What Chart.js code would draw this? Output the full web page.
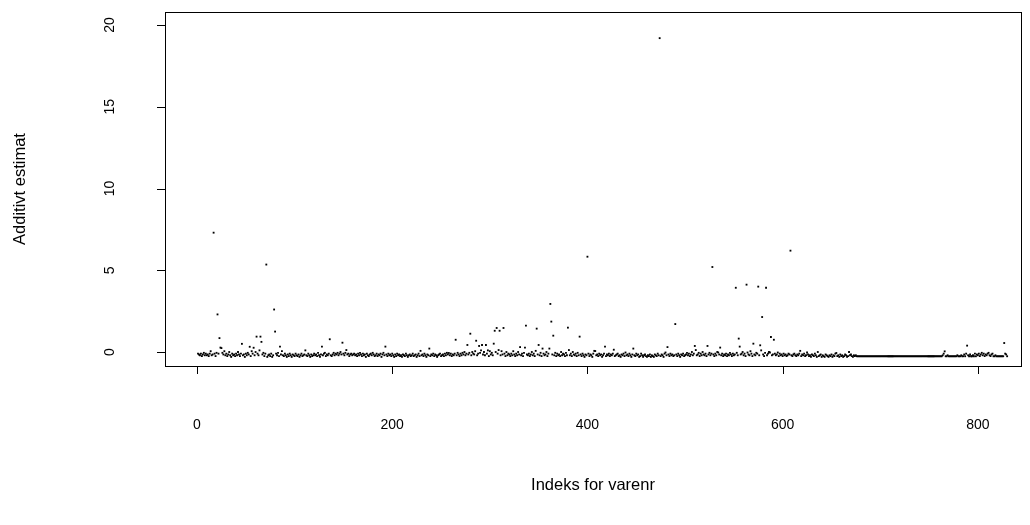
<!DOCTYPE html>
<html>
<head>
<meta charset="utf-8">
<script src="https://cdn.jsdelivr.net/npm/chart.js@4"></script>
<style>
  html, body { margin: 0; padding: 0; background: #fff; overflow: hidden; }
  #wrap { width: 1030px; height: 525px; }
</style>
</head>
<body>
<div id="wrap"><canvas id="plot" width="1030" height="525"></canvas></div>
<script>
/* --- data: additive estimate per item index (1..n) --- */
const estimates = [
  -0.1,-0.15,-0.2,-0.1,-0.25,-0.15,-0.05,-0.2,-0.1,-0.2,
  -0.15,-0.25,-0.1,0.05,-0.2,-0.15,7.3,-0.1,-0.25,-0.05,
  2.3,-0.1,0.85,0.27,0.24,-0.05,-0.15,0.05,-0.2,-0.1,
  -0.25,-0.15,0,-0.2,-0.3,-0.1,-0.2,-0.15,-0.25,-0.1,
  -0.2,0,-0.15,-0.25,-0.1,0.5,-0.2,-0.15,-0.3,-0.1,
  -0.2,-0.05,-0.15,0.32,-0.25,0.05,-0.1,0.26,-0.2,0,
  0.94,-0.1,-0.2,0.1,0.94,0.62,-0.15,-0.05,-0.25,-0.1,
  5.35,-0.3,-0.2,-0.15,-0.25,-0.1,-0.3,-0.2,2.6,1.25,
  -0.1,-0.2,-0.05,-0.25,0.33,-0.15,0.05,-0.2,-0.25,-0.1,
  -0.2,-0.3,-0.15,-0.25,-0.1,-0.2,-0.3,-0.15,-0.2,-0.25,
  -0.1,-0.2,-0.25,-0.15,-0.3,-0.2,-0.1,-0.25,-0.2,-0.15,
  0.1,-0.2,-0.25,-0.1,-0.2,-0.3,-0.15,-0.25,-0.2,-0.1,
  -0.2,-0.15,-0.25,-0.05,-0.2,-0.3,-0.15,0.33,-0.2,-0.1,
  -0.05,-0.25,-0.15,-0.2,-0.1,0.78,-0.2,-0.25,-0.15,-0.05,
  -0.2,-0.1,-0.15,-0.05,-0.2,-0.1,0,-0.15,0.57,-0.1,
  -0.2,-0.05,0.12,-0.15,-0.1,-0.25,-0.15,-0.1,-0.2,-0.15,
  -0.1,-0.2,-0.15,-0.25,-0.1,-0.2,-0.05,-0.15,-0.25,-0.1,
  -0.2,-0.15,-0.3,-0.1,-0.2,-0.25,-0.15,-0.1,-0.2,-0.05,
  -0.15,-0.25,-0.2,-0.1,-0.25,-0.15,-0.2,-0.1,-0.3,-0.15,
  -0.05,-0.2,0.33,-0.15,-0.25,-0.1,-0.2,-0.15,-0.25,-0.1,
  -0.2,-0.3,-0.15,-0.25,-0.1,-0.2,-0.15,-0.25,-0.2,-0.3,
  -0.15,-0.2,-0.25,-0.1,-0.2,-0.3,-0.2,-0.15,-0.25,-0.2,
  -0.1,-0.25,-0.2,-0.15,-0.3,-0.2,-0.1,-0.25,0.07,-0.2,
  -0.15,-0.25,-0.1,-0.2,-0.3,-0.15,-0.2,0.21,-0.25,-0.15,
  -0.2,-0.1,-0.25,-0.15,-0.2,-0.3,-0.2,-0.15,-0.1,-0.25,
  -0.2,-0.15,-0.25,-0.1,-0.2,-0.05,-0.15,-0.06,-0.2,-0.1,
  -0.25,-0.15,-0.2,-0.1,0.75,-0.2,-0.05,-0.15,-0.25,-0.1,
  -0.2,-0.05,-0.15,0,-0.2,-0.1,0.43,-0.15,-0.05,1.12,
  -0.2,0,-0.1,-0.15,0.05,0.69,-0.2,-0.1,0.37,-0.05,
  0.1,0.43,-0.15,0,-0.2,0.43,-0.1,0.1,-0.25,0.05,
  -0.15,-0.05,-0.2,0.51,1.3,0,1.47,-0.1,0.12,1.3,
  -0.2,0.05,-0.15,1.47,-0.1,-0.25,0,-0.2,-0.1,-0.15,
  -0.25,-0.1,-0.2,0.05,-0.15,-0.25,-0.1,-0.2,0,-0.15,
  0.3,-0.2,-0.1,-0.25,-0.05,0.27,1.61,-0.15,-0.2,-0.1,
  -0.25,-0.15,0,-0.2,-0.1,-0.25,0.07,1.43,-0.15,0.43,
  -0.2,-0.05,-0.25,0.21,-0.1,-0.2,-0.15,0,-0.25,-0.1,
  0.21,2.94,1.86,-0.15,1.0,-0.2,-0.05,-0.25,-0.1,-0.2,
  -0.15,-0.25,0,-0.2,-0.1,-0.15,-0.25,-0.05,-0.2,1.49,
  0.12,-0.2,-0.1,-0.25,0,-0.15,-0.2,-0.1,-0.25,-0.05,
  -0.2,0.94,-0.15,-0.25,-0.1,-0.2,-0.3,-0.15,-0.2,5.83,
  -0.1,-0.25,-0.15,-0.2,-0.3,-0.1,0.07,0.06,-0.2,-0.15,
  -0.25,-0.1,-0.2,-0.15,-0.3,-0.2,-0.1,0.33,-0.25,-0.15,
  -0.2,-0.1,-0.25,-0.15,-0.2,-0.1,0.14,-0.25,-0.2,-0.15,
  -0.1,-0.25,-0.2,-0.3,-0.15,-0.2,-0.1,-0.25,-0.03,-0.2,
  -0.15,-0.25,-0.1,-0.2,-0.3,-0.15,0.21,-0.2,-0.25,-0.1,
  -0.2,-0.15,-0.3,-0.25,-0.1,-0.2,-0.3,-0.2,-0.15,-0.25,
  -0.3,-0.2,-0.25,-0.15,-0.3,-0.2,-0.25,-0.3,-0.15,-0.2,
  -0.25,-0.1,-0.2,19.2,-0.25,-0.15,-0.2,-0.3,-0.1,-0.03,
  -0.2,0.3,-0.15,-0.25,-0.1,-0.2,-0.15,-0.25,-0.2,1.71,
  -0.15,-0.25,-0.1,-0.2,-0.3,-0.15,-0.2,-0.1,-0.25,-0.2,
  -0.15,-0.05,-0.2,-0.1,-0.25,-0.15,0,-0.2,-0.1,0.37,
  0.12,-0.2,-0.15,-0.05,-0.25,-0.1,-0.2,0,-0.15,-0.2,
  -0.1,-0.25,0.37,-0.15,-0.05,-0.2,-0.1,5.2,-0.15,-0.25,
  -0.1,-0.2,0,-0.03,-0.15,0.27,-0.2,-0.1,-0.25,-0.15,
  -0.2,-0.1,-0.25,-0.15,-0.2,-0.05,-0.15,-0.25,-0.1,-0.2,
  -0.15,3.93,-0.05,-0.2,0.82,0.33,-0.15,-0.1,0,-0.2,
  -0.1,-0.25,4.12,-0.03,-0.15,-0.2,0.05,-0.1,-0.25,0.51,
  -0.15,-0.2,-0.05,-0.1,4.0,-0.2,0.41,0.1,2.14,-0.15,
  -0.25,-0.05,3.93,-0.2,-0.1,0,-0.03,0.92,-0.2,-0.15,
  0.75,-0.1,-0.2,-0.15,-0.03,-0.25,-0.1,-0.2,-0.15,-0.25,
  -0.1,-0.2,-0.15,-0.25,-0.2,-0.1,-0.15,6.2,-0.2,-0.25,
  -0.15,-0.1,-0.2,-0.25,-0.15,-0.2,-0.1,0.07,-0.25,-0.15,
  -0.2,-0.1,-0.25,-0.2,-0.03,-0.15,-0.25,-0.2,-0.3,-0.15,
  -0.2,-0.25,-0.1,-0.2,-0.3,0,-0.25,-0.2,-0.15,-0.3,
  -0.2,-0.25,-0.3,-0.15,-0.2,-0.25,-0.3,-0.2,-0.25,-0.15,
  -0.3,-0.2,-0.25,-0.1,-0.06,-0.25,-0.2,-0.3,-0.15,-0.25,
  -0.2,-0.3,-0.25,-0.15,-0.2,-0.3,-0.25,0,-0.2,-0.15,
  -0.25,-0.3,-0.2,-0.25,-0.2,-0.26,-0.26,-0.26,-0.26,-0.26,
  -0.26,-0.26,-0.26,-0.26,-0.26,-0.26,-0.26,-0.26,-0.26,-0.26,
  -0.26,-0.26,-0.26,-0.26,-0.26,-0.26,-0.26,-0.26,-0.26,-0.26,
  -0.26,-0.26,-0.26,-0.26,-0.26,-0.26,-0.26,-0.26,-0.26,-0.26,
  -0.26,-0.26,-0.26,-0.26,-0.26,-0.26,-0.26,-0.26,-0.26,-0.26,
  -0.26,-0.26,-0.26,-0.26,-0.26,-0.26,-0.26,-0.26,-0.26,-0.26,
  -0.26,-0.26,-0.26,-0.26,-0.26,-0.26,-0.26,-0.26,-0.26,-0.26,
  -0.26,-0.26,-0.26,-0.26,-0.26,-0.26,-0.26,-0.26,-0.26,-0.26,
  -0.26,-0.26,-0.26,-0.26,-0.26,-0.26,-0.26,-0.26,-0.26,-0.26,
  -0.26,-0.26,-0.26,-0.2,-0.1,0.04,-0.26,-0.26,-0.2,-0.26,
  -0.26,-0.26,-0.26,-0.26,-0.26,-0.26,-0.26,-0.26,-0.2,-0.26,
  -0.26,-0.26,-0.2,-0.26,-0.26,-0.15,-0.26,-0.1,0.39,-0.2,
  -0.26,-0.15,-0.26,-0.26,-0.2,-0.26,-0.1,-0.26,-0.15,-0.2,
  -0.1,-0.25,-0.15,-0.05,-0.2,-0.1,-0.25,-0.15,-0.2,-0.1,
  -0.05,-0.2,-0.25,-0.15,-0.1,-0.26,-0.26,-0.2,-0.26,-0.26,
  -0.26,-0.26,-0.26,-0.26,-0.26,-0.26,0.55,-0.1,-0.15,-0.26
];

/* --- axes --- */
const xTicks = [0, 200, 400, 600, 800];
const yTicks = [0, 5, 10, 15, 20];
const xTitle = "Indeks for varenr";
const yTitle = "Additivt estimat";

const TICK_FONT = '14px "Liberation Sans", Arial, sans-serif';
const TITLE_FONT = '16.5px "Liberation Sans", Arial, sans-serif';

/* --- R-style box, ticks and labels --- */
const rAxes = {
    id: "rAxes",
    afterDraw(chart) {
        const ctx = chart.ctx;
        const a = chart.chartArea;
        const xs = chart.scales.x;
        const ys = chart.scales.y;

        ctx.save();
        ctx.strokeStyle = "#000";
        ctx.lineWidth = 1;

        // box
        ctx.strokeRect(Math.round(a.left) + 0.5, Math.round(a.top) + 0.5,
            Math.round(a.right - a.left), Math.round(a.bottom - a.top));

        // x ticks
        ctx.beginPath();
        xTicks.forEach(v => {
            const px = Math.round(xs.getPixelForValue(v)) + 0.5;
            ctx.moveTo(px, a.bottom);
            ctx.lineTo(px, a.bottom + 8);
        });
        // y ticks
        yTicks.forEach(v => {
            const py = Math.round(ys.getPixelForValue(v)) + 0.5;
            ctx.moveTo(a.left, py);
            ctx.lineTo(a.left - 8, py);
        });
        ctx.stroke();

        ctx.fillStyle = "#000";
        ctx.textAlign = "center";
        ctx.textBaseline = "middle";

        ctx.font = TICK_FONT;
        xTicks.forEach(v => {
            ctx.fillText(String(v), xs.getPixelForValue(v), 425);
        });
        yTicks.forEach(v => {
            ctx.save();
            ctx.translate(110, ys.getPixelForValue(v));
            ctx.rotate(-Math.PI / 2);
            ctx.fillText(String(v), 0, 0);
            ctx.restore();
        });

        // titles
        ctx.font = TITLE_FONT;
        ctx.fillText(xTitle, (a.left + a.right) / 2, 485);
        ctx.save();
        ctx.translate(20, (a.top + a.bottom) / 2);
        ctx.rotate(-Math.PI / 2);
        ctx.fillText(yTitle, 0, 0);
        ctx.restore();

        ctx.restore();
    }
};

const points = estimates.map((v, i) => ({ x: i + 1, y: v }));

new Chart(document.getElementById("plot"), {
    type: "scatter",
    data: {
        datasets: [{
            data: points,
            pointStyle: "rect",
            pointRadius: 1.3,
            pointHoverRadius: 1.3,
            backgroundColor: "#000",
            borderWidth: 0
        }]
    },
    options: {
        responsive: false,
        animation: false,
        events: [],
        layout: { padding: { left: 165, top: 12, right: 9, bottom: 159 } },
        plugins: { legend: { display: false }, tooltip: { enabled: false } },
        scales: {
            x: { type: "linear", display: false, min: -32.8, max: 844.2 },
            y: { type: "linear", display: false, min: -0.856, max: 20.8 }
        }
    },
    plugins: [rAxes]
});
</script>
</body>
</html>
